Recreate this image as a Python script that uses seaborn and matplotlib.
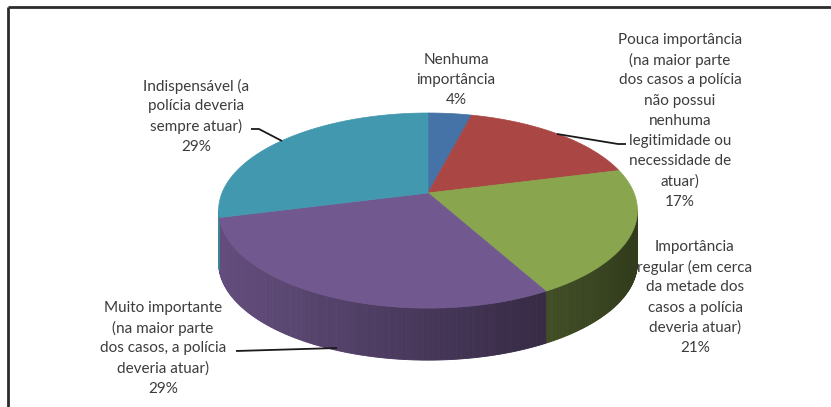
import numpy as np
import matplotlib
matplotlib.use("Agg")
import matplotlib.pyplot as plt
import seaborn as sns
from matplotlib.patches import Polygon
from matplotlib.colors import to_rgb

# ---- data ----
categories = [
    "Nenhuma importância",
    "Pouca importância (na maior parte dos casos a polícia não possui nenhuma legitimidade ou necessidade de atuar)",
    "Importância regular (em cerca da metade dos casos a polícia deveria atuar)",
    "Muito importante (na maior parte dos casos, a polícia deveria atuar)",
    "Indispensável (a polícia deveria sempre atuar)",
]
values = [4, 17, 21, 29, 29]
label_lines = [
    ["Nenhuma", "importância"],
    ["Pouca importância", "(na maior parte", "dos casos a polícia", "não possui",
     "nenhuma", "legitimidade ou", "necessidade de", "atuar)"],
    ["Importância", "regular (em cerca", "da metade dos", "casos a polícia", "deveria atuar)"],
    ["Muito importante", "(na maior parte", "dos casos, a polícia", "deveria atuar)"],
    ["Indispensável (a", "polícia deveria", "sempre atuar)"],
]
colors = ["#4572A7", "#AA4643", "#89A54E", "#71588F", "#4198AF"]

# ---- style ----
sns.set_theme(style="white")
plt.rcParams['font.family'] = ['Lato', 'DejaVu Sans']

W, H = 831, 407
fig = plt.figure(figsize=(W / 100, H / 100), dpi=100)
ax = fig.add_axes([0, 0, 1, 1])
ax.set_xlim(0, W)
ax.set_ylim(H, 0)
ax.axis('off')

# 3D pie geometry (screen px)
cx, cy, rx, ry, k, depth = 428, 193, 206, 94.4, 0.18, 52


def proj(theta_deg):
    t = np.radians(theta_deg)
    u, v = np.sin(t), -np.cos(t)
    d = 1 - k * v
    return cx + rx * u / d, cy + ry * v / d


total = float(sum(values))
bounds = np.concatenate([[0], np.cumsum(values)]) / total * 360.0

# visible side range: between the two silhouette extremes
vis0 = np.degrees(np.arccos(-k))
vis1 = 360 - vis0

# sides first (gradient by x)
for i, c in enumerate(colors):
    a0, a1 = max(bounds[i], vis0), min(bounds[i + 1], vis1)
    if a1 <= a0:
        continue
    ts = np.linspace(a0, a1, max(4, int((a1 - a0) * 2)))
    base = np.array(to_rgb(c))
    for j in range(len(ts) - 1):
        x0, y0 = proj(ts[j])
        x1, y1 = proj(ts[j + 1])
        xm = (x0 + x1) / 2
        f = 0.88 - 0.52 * np.clip((xm - 218) / 420, 0, 1)
        col = np.clip(base * f, 0, 1)
        ax.add_patch(Polygon([(x0, y0), (x1, y1), (x1, y1 + depth), (x0, y0 + depth)],
                             closed=True, facecolor=col, edgecolor=col, linewidth=0.6,
                             zorder=1))

# top faces
for i, c in enumerate(colors):
    a0, a1 = bounds[i], bounds[i + 1]
    ts = np.linspace(a0, a1, 200)
    pts = [(cx, cy)] + [proj(t) for t in ts]
    ax.add_patch(Polygon(pts, closed=True, facecolor=c, edgecolor=c, linewidth=0.5,
                         zorder=2))

# labels
label_pos = [(456, 60), (680, 40), (695, 247), (163, 308), (196, 86)]
spacing = 20.2
txt_color = "#3c3c3c"
for lines, v, (lx, ly) in zip(label_lines, values, label_pos):
    for n, s in enumerate(lines + [f"{v}%"]):
        ax.text(lx, ly + n * spacing, s, ha='center', va='center', fontsize=11,
                color=txt_color, zorder=5)

# leader lines
leaders = [
    [(557, 134), (618, 144), (626, 144)],
    [(236, 351), (337, 348)],
    [(251, 129), (259, 129), (282, 141)],
]
for pts in leaders:
    xs, ys = zip(*pts)
    ax.plot(xs, ys, color="#1a1a1a", lw=1.3, zorder=4, solid_capstyle='butt')

# frame (top and left)
ax.plot([8, W], [6.5, 6.5], color="#2b2b2b", lw=2.0, zorder=6, solid_capstyle='butt')
ax.plot([8, 8], [6.5, H], color="#2b2b2b", lw=2.0, zorder=6, solid_capstyle='butt')

fig.savefig("out.png", dpi=100)
